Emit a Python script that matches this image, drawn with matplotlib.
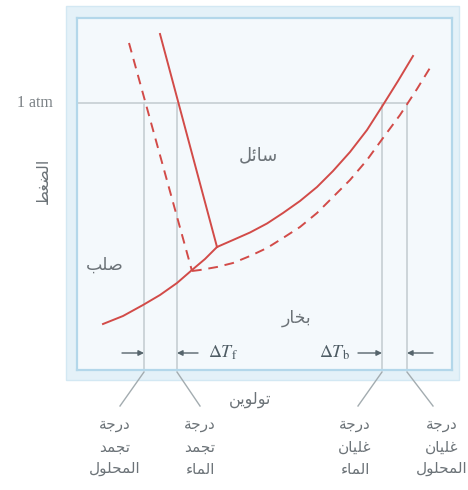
import numpy as np
import matplotlib
matplotlib.use('Agg')
import matplotlib.pyplot as plt
from matplotlib.patches import Rectangle

# --- data (diagram units: T to the right, P upward) ---
water_freeze_T = [83, 140]
water_freeze_P = [336, 123]
sol_freeze_T = [52, 115]
sol_freeze_P = [327, 99]
water_vap_T = [140, 156, 173, 190, 206, 223, 240, 256, 273, 290, 306, 321, 336]
water_vap_P = [123, 130, 137.5, 146.5, 157, 169, 183, 199, 218, 240, 265, 289, 314]
sol_vap_T = [115, 123, 140, 156, 173, 190, 206, 223, 240, 256, 273, 290, 306, 323, 340, 356]
sol_vap_P = [99, 100, 103, 107, 114, 122, 132, 143, 157, 173, 190, 210, 232, 255, 281, 307]
sublim_T = [26, 46, 66, 83, 100, 115, 128, 140]
sublim_P = [46, 54, 65, 75, 87, 100, 111, 123]

p_atm = 267
mark_T = [67, 100, 305, 330]   # solution freeze, water freeze, water boil, solution boil
leader_end_T = [43, 123, 281, 356]
label_T = [38, 123, 278, 365]
labels = [['درجة', 'تجمد', 'المحلول'],
          ['درجة', 'تجمد', 'الماء'],
          ['درجة', 'غليان', 'الماء'],
          ['درجة', 'غليان', 'المحلول']]

# --- minimal Arabic shaping (presentation forms + visual order) ---
FORMS = {
    'ا': ('\uFE8D', '\uFE8E'),
    'ب': ('\uFE8F', '\uFE90', '\uFE91', '\uFE92'),
    'ة': ('\uFE93', '\uFE94'),
    'ت': ('\uFE95', '\uFE96', '\uFE97', '\uFE98'),
    'ج': ('\uFE9D', '\uFE9E', '\uFE9F', '\uFEA0'),
    'ح': ('\uFEA1', '\uFEA2', '\uFEA3', '\uFEA4'),
    'خ': ('\uFEA5', '\uFEA6', '\uFEA7', '\uFEA8'),
    'د': ('\uFEA9', '\uFEAA'),
    'ر': ('\uFEAD', '\uFEAE'),
    'س': ('\uFEB1', '\uFEB2', '\uFEB3', '\uFEB4'),
    'ص': ('\uFEB9', '\uFEBA', '\uFEBB', '\uFEBC'),
    'ض': ('\uFEBD', '\uFEBE', '\uFEBF', '\uFEC0'),
    'ط': ('\uFEC1', '\uFEC2', '\uFEC3', '\uFEC4'),
    'غ': ('\uFECD', '\uFECE', '\uFECF', '\uFED0'),
    'ل': ('\uFEDD', '\uFEDE', '\uFEDF', '\uFEE0'),
    'م': ('\uFEE1', '\uFEE2', '\uFEE3', '\uFEE4'),
    'ن': ('\uFEE5', '\uFEE6', '\uFEE7', '\uFEE8'),
    'و': ('\uFEED', '\uFEEE'),
    'ي': ('\uFEF1', '\uFEF2', '\uFEF3', '\uFEF4'),
    'ئ': ('\uFE89', '\uFE8A', '\uFE8B', '\uFE8C'),
    'ء': ('\uFE80',),
}


def shape(word):
    out = []
    for i, ch in enumerate(word):
        f = FORMS.get(ch)
        if f is None:
            out.append(ch)
            continue
        prev = word[i - 1] if i > 0 else ''
        nxt = word[i + 1] if i + 1 < len(word) else ''
        join_prev = len(f) > 1 and prev in FORMS and len(FORMS[prev]) == 4
        join_next = len(f) == 4 and nxt in FORMS and len(FORMS[nxt]) > 1
        if join_prev and join_next:
            out.append(f[3])
        elif join_prev:
            out.append(f[1])
        elif join_next:
            out.append(f[2])
        else:
            out.append(f[0])
    return ''.join(reversed(out))


plt.rcParams['font.family'] = ['DejaVu Sans']
plt.rcParams['mathtext.fontset'] = 'stix'

red = '#d24b48'
gray_txt = '#6c7378'
gray_line = '#c6ced2'
leader = '#a3acb0'
arrow_c = '#56656c'

W, H = 468, 490
fig = plt.figure(figsize=(W / 100, H / 100), dpi=100)
fig.patch.set_facecolor('white')

# outer light-blue band
bg = fig.add_axes([0, 0, 1, 1])
bg.set_xlim(0, W)
bg.set_ylim(H, 0)
bg.axis('off')
bg.add_patch(Rectangle((66, 6), 393, 374, facecolor='#e4f1f8', edgecolor='#d3e8f3', lw=1))

ax = fig.add_axes([77 / W, 1 - 370 / H, 375 / W, 352 / H])
ax.set_xlim(0, 375)
ax.set_ylim(0, 352)
ax.set_facecolor('#f4f9fc')
ax.set_xticks([])
ax.set_yticks([])
for s in ax.spines.values():
    s.set_color('#b3d7ea')
    s.set_linewidth(1.6)

# 1 atm line and transition temperatures
ax.plot([0, mark_T[3]], [p_atm, p_atm], color=gray_line, lw=1.2)
for t, te in zip(mark_T, leader_end_T):
    ax.plot([t, t], [p_atm, 0], color=gray_line, lw=1.2)
    ax.plot([t, te], [-2, -36], color=leader, lw=1, clip_on=False)

# phase boundaries
ax.plot(sublim_T, sublim_P, color=red, lw=1.4, solid_joinstyle='round')
ax.plot(water_freeze_T, water_freeze_P, color=red, lw=1.4)
ax.plot(water_vap_T, water_vap_P, color=red, lw=1.4, solid_joinstyle='round')
ax.plot(sol_freeze_T, sol_freeze_P, color=red, lw=1.4, dashes=(5, 3.5))
ax.plot(sol_vap_T, sol_vap_P, color=red, lw=1.4, dashes=(5, 3.5))

# region names
ax.text(181, 215, shape('سائل'), fontsize=13, color=gray_txt, ha='center', va='center')
ax.text(28, 105, shape('صلب'), fontsize=12.5, color=gray_txt, ha='center', va='center')
ax.text(220, 52, shape('بخار'), fontsize=12.5, color=gray_txt, ha='center', va='center')
ax.text(173, -30, shape('تولوين'), fontsize=11.5, color=gray_txt, ha='center', va='center', clip_on=False)
ax.text(-24, p_atm, '1 atm', fontsize=11.5, family='Liberation Serif', color='#7a8084',
        ha='right', va='center', clip_on=False)
ax.text(-34, 189, shape('الضغط'), fontsize=11.5, color=gray_txt, rotation=90,
        ha='center', va='center', clip_on=False)

# delta T arrows
akw = dict(arrowstyle='-|>', color=arrow_c, lw=1, mutation_scale=8, shrinkA=0, shrinkB=0)
y_arr = 17
ax.annotate('', xy=(mark_T[0], y_arr), xytext=(45, y_arr), arrowprops=akw)
ax.annotate('', xy=(mark_T[1], y_arr), xytext=(121, y_arr), arrowprops=akw)
ax.annotate('', xy=(mark_T[2], y_arr), xytext=(281, y_arr), arrowprops=akw)
ax.annotate('', xy=(mark_T[3], y_arr), xytext=(356, y_arr), arrowprops=akw)
ax.text(131, y_arr, r'$\Delta T_\mathrm{f}$', fontsize=13, color='#4d5b63', ha='left', va='center')
ax.text(273, y_arr, r'$\Delta T_\mathrm{b}$', fontsize=13, color='#4d5b63', ha='right', va='center')

# bottom labels
for t, lines in zip(label_T, labels):
    for i, word in enumerate(lines):
        ax.text(t, -55 - 22 * i, shape(word), fontsize=11, color=gray_txt,
                ha='center', va='center', clip_on=False)

fig.savefig('out.png', dpi=100)
